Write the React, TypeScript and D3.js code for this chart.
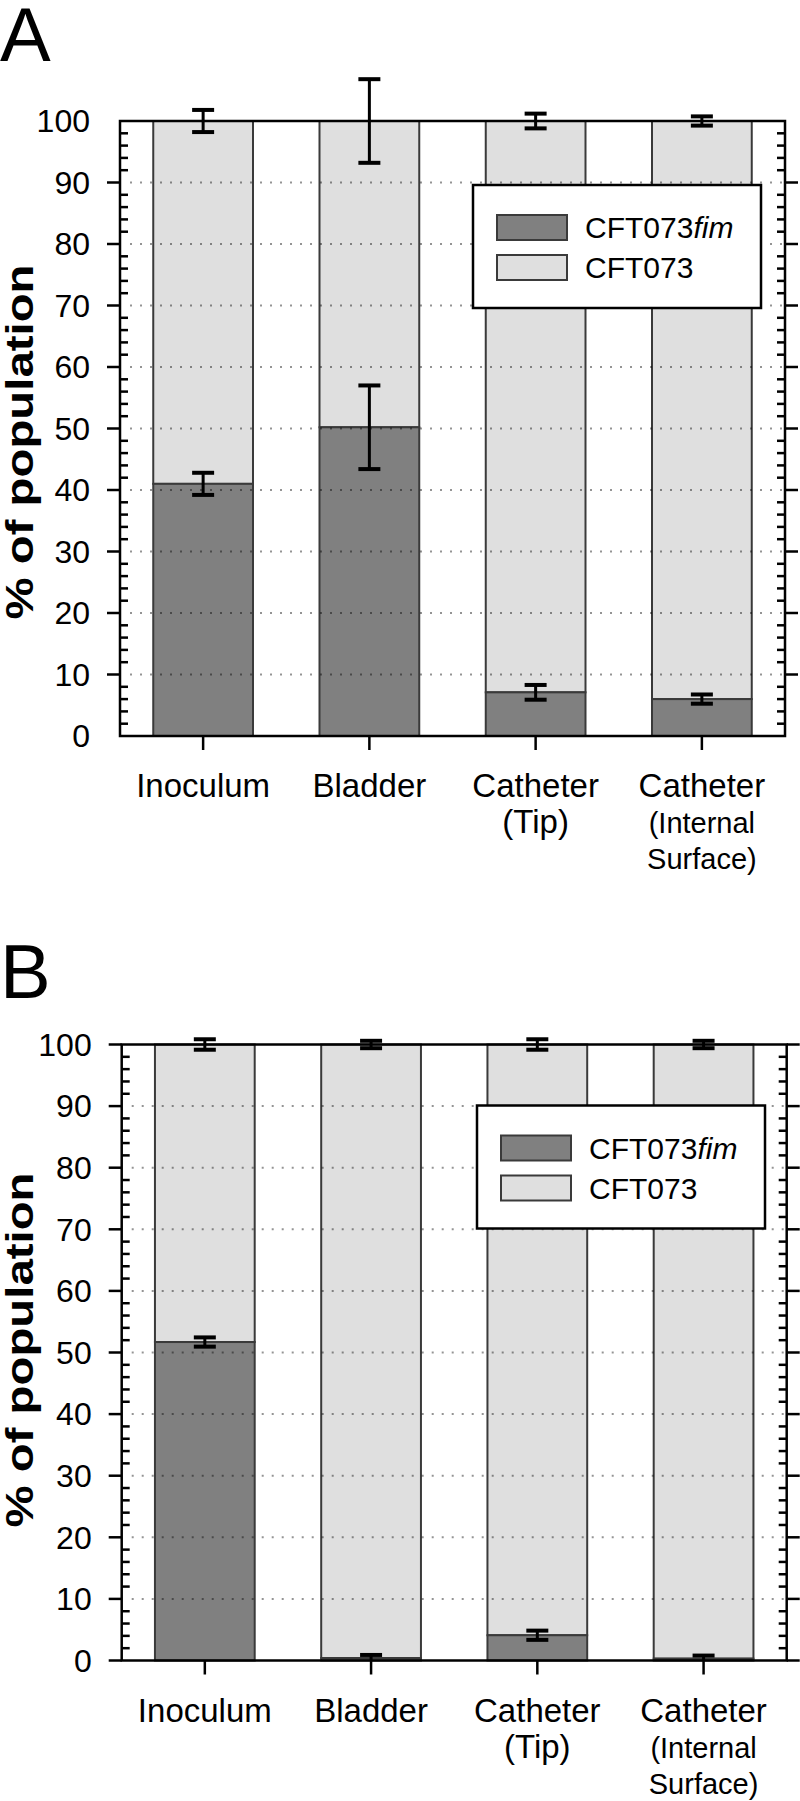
import React from "react";
import * as d3 from "d3";

const categories = ["Inoculum", "Bladder", "Catheter (Tip)", "Catheter (Internal Surface)"];
const categoryLines = [["Inoculum"], ["Bladder"], ["Catheter", "(Tip)"], ["Catheter", "(Internal", "Surface)"]];
const seriesNames = ["CFT073fim", "CFT073"];

// Panel A
const fimA = [41.0, 50.2, 7.1, 6.0];
const fimErrA = [1.8, 6.8, 1.2, 0.75];
const wtErrA = [1.8, 6.8, 1.2, 0.75];
// Panel B
const fimB = [51.7, 0.4, 4.1, 0.3];
const fimErrB = [0.75, 0.5, 0.75, 0.5];
const wtErrB = [0.85, 0.6, 0.85, 0.6];

const yTicksMajor = [0, 10, 20, 30, 40, 50, 60, 70, 80, 90, 100];
const yTicksMinor = d3.range(2, 100, 2).filter((v) => v % 10 !== 0);
const gridValues = [10, 20, 30, 40, 50, 60, 70, 80, 90];

const FONT = "'Liberation Sans', Arial, Helvetica, sans-serif";
const DARK = "#808080";
const LIGHT = "#dfdfdf";
const EDGE = "#3a3a3a";

type PanelProps = {
  letter: string;
  letterX: number;
  letterY: number;
  left: number;
  right: number;
  top: number;
  bottom: number;
  fim: number[];
  fimErr: number[];
  wtErr: number[];
  endTicks: boolean;
  legendX: number;
  legendY: number;
  yLabelY: number;
};

function Panel(p: PanelProps) {
  const x = d3.scaleBand<string>().domain(categories).range([p.left, p.right]).paddingInner(0).paddingOuter(0);
  const y = d3.scaleLinear().domain([0, 100]).range([p.bottom, p.top]);
  const bw = x.bandwidth() * 0.6;
  const capW = 11;
  const majors = p.endTicks ? yTicksMajor : yTicksMajor.filter((v) => v !== 0 && v !== 100);

  return (
    <g>
      <text x={p.letterX} y={p.letterY} fontFamily={FONT} fontSize={76}>{p.letter}</text>
      {/* bars */}
      {categories.map((c, i) => {
        const cx = (x(c) as number) + x.bandwidth() / 2;
        return (
          <g key={c}>
            <rect x={cx - bw / 2} y={y(100)} width={bw} height={y(p.fim[i]) - y(100)} fill={LIGHT} stroke={EDGE} strokeWidth={2} />
            <rect x={cx - bw / 2} y={y(p.fim[i])} width={bw} height={y(0) - y(p.fim[i])} fill={DARK} stroke={EDGE} strokeWidth={2} />
          </g>
        );
      })}
      {/* dotted grid on top of bars */}
      {gridValues.map((v) => (
        <line key={v} x1={p.left + 10} x2={p.right} y1={y(v)} y2={y(v)} stroke="rgba(0,0,0,0.42)" strokeWidth={2} strokeDasharray="2,8" />
      ))}
      {/* error bars */}
      {categories.map((c, i) => {
        const cx = (x(c) as number) + x.bandwidth() / 2;
        const items = [
          { v: 100, e: p.wtErr[i] },
          { v: p.fim[i], e: p.fimErr[i] },
        ];
        return items.map((it, j) => (
          <g key={c + j} stroke="#000">
            <line x1={cx} x2={cx} y1={y(it.v + it.e)} y2={y(Math.max(0, it.v - it.e))} strokeWidth={3} />
            <line x1={cx - capW} x2={cx + capW} y1={y(it.v + it.e)} y2={y(it.v + it.e)} strokeWidth={4} />
            {it.v - it.e > 0 && <line x1={cx - capW} x2={cx + capW} y1={y(it.v - it.e)} y2={y(it.v - it.e)} strokeWidth={4} />}
          </g>
        ));
      })}
      {/* legend */}
      <g>
        <rect x={p.legendX} y={p.legendY} width={288} height={123} fill="#fff" stroke="#000" strokeWidth={2.5} />
        {seriesNames.map((s, i) => (
          <g key={s}>
            <rect x={p.legendX + 24} y={p.legendY + 30 + i * 40} width={70} height={25} fill={i === 0 ? DARK : LIGHT} stroke={EDGE} strokeWidth={2} />
            <text x={p.legendX + 112} y={p.legendY + 53 + i * 40} fontFamily={FONT} fontSize={30}>
              {i === 0 ? (
                <>
                  CFT073<tspan fontStyle="italic">fim</tspan>
                </>
              ) : (
                s
              )}
            </text>
          </g>
        ))}
      </g>
      {/* axes frame */}
      <g stroke="#000" strokeWidth={2.5} fill="none">
        <rect x={p.left} y={p.top} width={p.right - p.left} height={p.bottom - p.top} />
        {majors.map((v) => (
          <g key={"M" + v}>
            <line x1={p.left - 13} x2={p.left} y1={y(v)} y2={y(v)} />
            <line x1={p.right} x2={p.right + 13} y1={y(v)} y2={y(v)} />
          </g>
        ))}
        {yTicksMinor.map((v) => (
          <g key={"m" + v}>
            <line x1={p.left} x2={p.left + 8} y1={y(v)} y2={y(v)} />
            <line x1={p.right - 8} x2={p.right} y1={y(v)} y2={y(v)} />
          </g>
        ))}
        {categories.map((c) => {
          const cx = (x(c) as number) + x.bandwidth() / 2;
          return <line key={c} x1={cx} x2={cx} y1={p.bottom} y2={p.bottom + 14} />;
        })}
      </g>
      {/* y tick labels */}
      {yTicksMajor.map((v) => (
        <text key={v} x={p.left - 30} y={y(v)} dy="0.35em" textAnchor="end" fontFamily={FONT} fontSize={32}>
          {v}
        </text>
      ))}
      {/* category labels */}
      {categories.map((c, i) => {
        const cx = (x(c) as number) + x.bandwidth() / 2;
        const lines = categoryLines[i];
        return (
          <text key={c} textAnchor="middle" fontFamily={FONT}>
            {lines.map((l, k) => (
              <tspan key={k} x={cx} y={p.bottom + 61 + k * 36} fontSize={lines.length > 2 && k > 0 ? 29 : 33}>
                {l}
              </tspan>
            ))}
          </text>
        );
      })}
      {/* y axis label */}
      <text
        transform={`translate(33,${p.yLabelY}) rotate(-90)`}
        textAnchor="middle"
        fontFamily={FONT}
        fontWeight="bold"
        fontSize={38}
        textLength={355}
        lengthAdjust="spacingAndGlyphs"
      >
        % of population
      </text>
    </g>
  );
}

export default function App() {
  return (
    <svg width={800} height={1801} style={{ position: "absolute", left: 0, top: 0, background: "#fff" }}>
      <rect x={0} y={0} width={800} height={1801} fill="#fff" />
      <Panel
        letter="A"
        letterX={0}
        letterY={61}
        left={120}
        right={785}
        top={121}
        bottom={736}
        fim={fimA}
        fimErr={fimErrA}
        wtErr={wtErrA}
        endTicks={false}
        legendX={473}
        legendY={185}
        yLabelY={442}
      />
      <Panel
        letter="B"
        letterX={0}
        letterY={998}
        left={121.7}
        right={786.7}
        top={1044.5}
        bottom={1660.5}
        fim={fimB}
        fimErr={fimErrB}
        wtErr={wtErrB}
        endTicks={true}
        legendX={477}
        legendY={1105.5}
        yLabelY={1350}
      />
    </svg>
  );
}
